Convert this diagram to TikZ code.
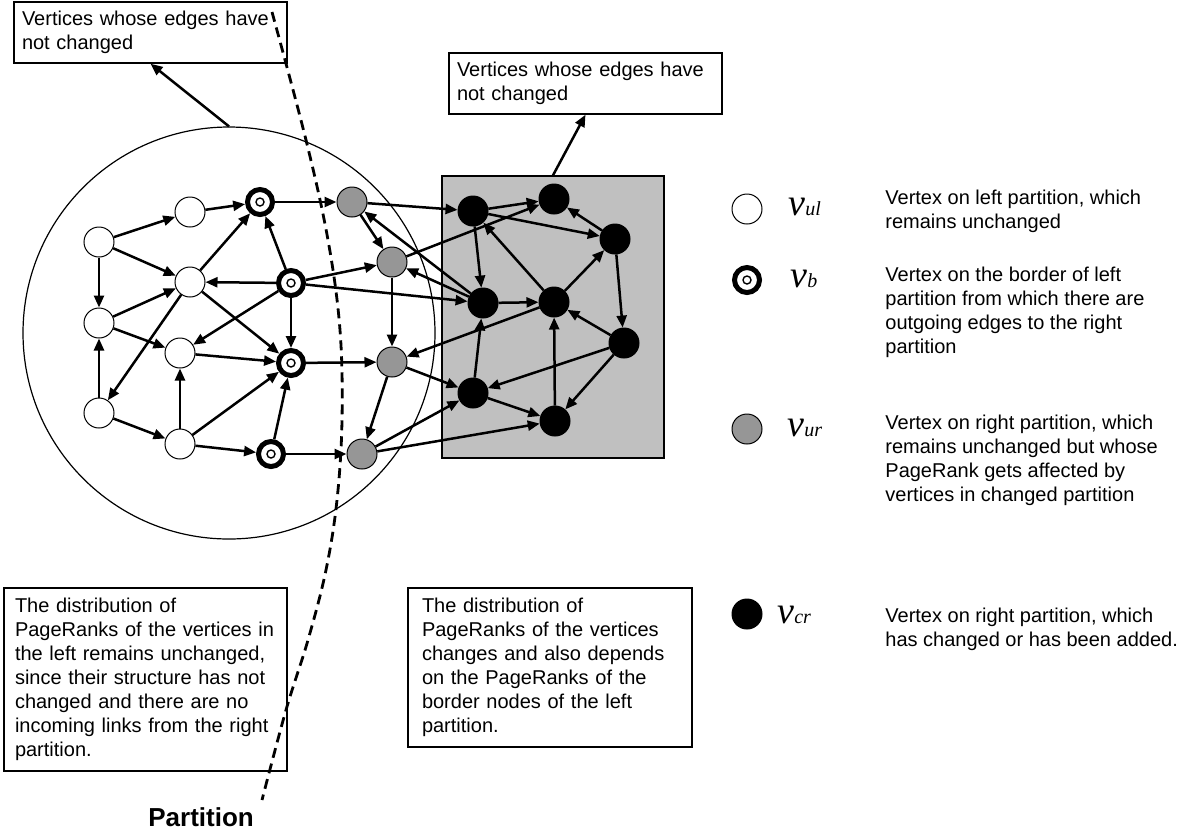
\documentclass[tikz,border=0pt]{standalone}
\usepackage{fontspec}
\setmainfont{Liberation Sans}
\newfontfamily\serifit{Liberation Serif}
\usetikzlibrary{arrows.meta}
\definecolor{nodegray}{RGB}{150,150,150}
\definecolor{boxgray}{RGB}{192,192,192}
\begin{document}
\begin{tikzpicture}[x=0.5pt,y=-0.5pt,
  wnode/.style={circle,draw,line width=0.5pt,fill=white,minimum size=15pt,inner sep=0pt},
  bnode/.style={circle,draw,line width=2.5pt,fill=white,minimum size=12.5pt,inner sep=0pt,
     path picture={\draw[line width=0.7pt] (path picture bounding box.center) circle (2pt);}},
  gnode/.style={circle,draw,line width=0.5pt,fill=nodegray,minimum size=15pt,inner sep=0pt},
  knode/.style={circle,draw,fill=black,line width=0.5pt,minimum size=15pt,inner sep=0pt},
  arr/.style={line width=1.25pt,-{Triangle[length=6pt,width=5pt]}},
  note/.style={draw,line width=0.7pt,align=left,font=\fontsize{10}{12}\selectfont},
  legtext/.style={anchor=north west,inner sep=0pt,align=left,font=\fontsize{10}{12}\selectfont},
  vlab/.style={anchor=base west,inner sep=0pt}
]
\useasboundingbox (0,0) rectangle (1183,832);

% background shapes
\node[circle,draw,line width=0.6pt,minimum size=206pt,inner sep=0pt] (bigc) at (229,333) {};
\node[draw,line width=0.7pt,fill=boxgray,minimum width=111pt,minimum height=141pt,inner sep=0pt] (rect) at (553,317) {};

% note boxes
\node[note,text width=128.5pt,inner xsep=4pt,minimum height=30.5pt] (box1) at (150.5,32.5)
  {Vertices whose edges have\\not changed};
\node[note,text width=128.5pt,inner xsep=4pt,minimum height=30.5pt] (box2) at (585.5,83.5)
  {Vertices whose edges have\\not changed};
\node[note,text width=130.5pt,inner xsep=5.5pt,minimum height=91.5pt] (box3) at (145.5,679.5)
  {The distribution of\\PageRanks of the vertices in\\the left remains unchanged,\\since their structure has not\\changed and there are no\\incoming links from the right\\partition.};
\node[note,text width=128pt,inner xsep=7pt,minimum height=79.5pt] (box4) at (550,667.5)
  {The distribution of\\PageRanks of the vertices\\changes and also depends\\on the PageRanks of the\\border nodes of the left\\partition.};

% partition line
\draw[line width=1.4pt,dash pattern=on 5pt off 3pt] plot[smooth,tension=0.6] coordinates
  {(272,12) (306,140) (328,240) (340,330) (342,420) (337,500) (326,570) (308,640) (286,710) (262,800)};

\draw[arr] (bigc.north) -- (box1.south);
\draw[arr] (rect.north) -- (box2.south);

% graph nodes
\node[wnode] (a1) at (99,242) {};
\node[wnode] (a2) at (190,212) {};
\node[wnode] (a3) at (190,282) {};
\node[wnode] (a4) at (99,323) {};
\node[wnode] (a5) at (180,353) {};
\node[wnode] (a6) at (99,413) {};
\node[wnode] (a7) at (180,444) {};
\node[bnode] (b1) at (260,202) {};
\node[bnode] (b2) at (291,283) {};
\node[bnode] (b3) at (291,363) {};
\node[bnode] (b4) at (271,454) {};
\node[gnode] (g1) at (352,202) {};
\node[gnode] (g2) at (392,262) {};
\node[gnode] (g3) at (392,362) {};
\node[gnode] (g4) at (362,454) {};
\node[knode] (k1) at (473,211) {};
\node[knode] (k2) at (554,199) {};
\node[knode] (k3) at (615,239) {};
\node[knode] (k4) at (483,303) {};
\node[knode] (k5) at (554,302) {};
\node[knode] (k6) at (624,343) {};
\node[knode] (k7) at (473,393) {};
\node[knode] (k8) at (555,421) {};

% edges
\foreach \s/\t in {a1/a2,a1/a3,a1/a4,a2/b1,a3/b1,b2/b1,b2/a3,b2/a5,b2/b3,a4/a3,a4/a5,a3/b3,a3/a6,a6/a4,
  a5/b3,a6/a7,a7/a5,a7/b3,a7/b4,b4/b3,b4/g4,b3/g3,b1/g1,b2/g2,b2/k4,g1/g2,g1/k1,k4/g1,g2/k2,k1/k2,
  k1/k3,k3/k2,k1/k4,k5/k1,k4/k5,k5/k3,k3/k6,k6/k5,k8/k5,k7/k4,k6/k7,k6/k8,k7/k8,g4/k8,g4/k7,g3/k7,
  g3/g4,g2/g3,k5/g3,k4/g2}
  \draw[arr] (\s) -- (\t);

% legend
\node[wnode] (lw) at (747,209) {};
\node[bnode] (lb) at (747,280) {};
\node[gnode] (lg) at (747,429) {};
\node[knode] (lk) at (747,614) {};

\node[vlab] (vul) at (788,215) {\serifit\itshape\fontsize{19}{19}\selectfont v\fontsize{10}{10}\selectfont ul};
\node[vlab] (vb) at (790,287) {\serifit\itshape\fontsize{19}{19}\selectfont v\fontsize{10}{10}\selectfont b};
\node[vlab] (vur) at (787,436) {\serifit\itshape\fontsize{19}{19}\selectfont v\fontsize{10}{10}\selectfont ur};
\node[vlab] (vcr) at (777,623) {\serifit\itshape\fontsize{19}{19}\selectfont v\fontsize{10}{10}\selectfont cr};

\node[legtext] (t1) at (885,190) {Vertex on left partition, which\\remains unchanged};
\node[legtext] (t2) at (885,267) {Vertex on the border of left\\partition from which there are\\outgoing edges to the right\\partition};
\node[legtext] (t3) at (885,415) {Vertex on right partition, which\\remains unchanged but whose\\PageRank gets affected by\\vertices in changed partition};
\node[legtext] (t4) at (885,608) {Vertex on right partition, which\\has changed or has been added.};

\node[anchor=base west,inner sep=0pt,font=\fontsize{13}{13}\selectfont\bfseries] (plab) at (148,826) {Partition};
\end{tikzpicture}
\end{document}
